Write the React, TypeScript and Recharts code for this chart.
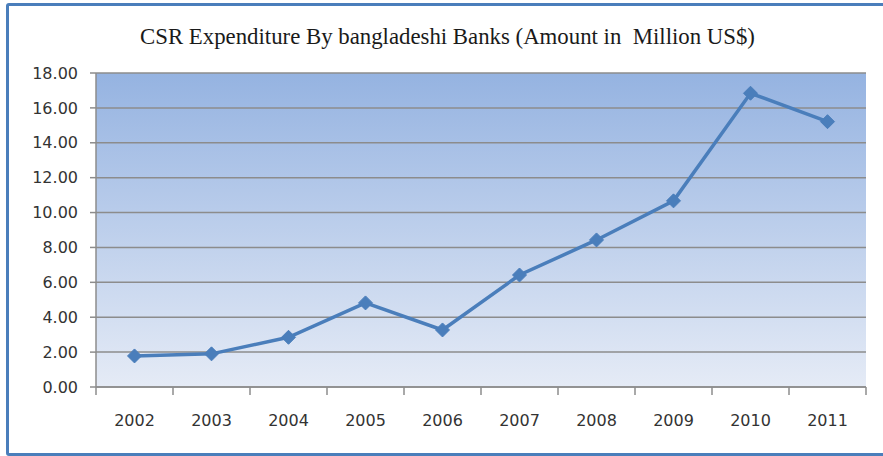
import { LineChart, Line, XAxis, YAxis, CartesianGrid } from "recharts";

const years = ["2002", "2003", "2004", "2005", "2006", "2007", "2008", "2009", "2010", "2011"];
const expenditure = [1.78, 1.9, 2.85, 4.82, 3.27, 6.42, 8.43, 10.67, 16.84, 15.21];
const yTicks = [0, 2, 4, 6, 8, 10, 12, 14, 16, 18];

const data = years.map((year, i) => ({ year, value: expenditure[i] }));

const LINE = "#4a7ebb";
const GRID = "#8c8c8c";
const AXIS_FONT = "DejaVu Sans, sans-serif";

const W = 883;
const H = 456;
const MARGIN = { top: 73, right: 17, left: 0, bottom: 0 };
const Y_WIDTH = 96;
// half of one category slot, so ticks sit between years
const HALF_BAND = (W - MARGIN.right - Y_WIDTH) / years.length / 2;

function Diamond(props: any) {
  const { cx, cy } = props;
  if (cx == null || cy == null) return null;
  const r = 7;
  return (
    <path
      d={`M${cx},${cy - r}L${cx + r},${cy}L${cx},${cy + r}L${cx - r},${cy}Z`}
      fill={LINE}
      stroke={LINE}
      strokeWidth={1}
    />
  );
}

function YearTick(props: any) {
  const { x, y, payload, index, visibleTicksCount } = props;
  return (
    <g>
      <line x1={x - HALF_BAND} x2={x - HALF_BAND} y1={y} y2={y + 8} stroke={GRID} strokeWidth={1.5} />
      {index === visibleTicksCount - 1 && (
        <line x1={x + HALF_BAND} x2={x + HALF_BAND} y1={y} y2={y + 8} stroke={GRID} strokeWidth={1.5} />
      )}
      <text x={x} y={y + 39} textAnchor="middle" fontFamily={AXIS_FONT} fontSize={16} fill="#333">
        {payload.value}
      </text>
    </g>
  );
}

export default function App() {
  return (
    <div style={{ position: "absolute", left: 0, top: 0, width: W, height: H, background: "#fff", overflow: "hidden" }}>
      <div
        style={{
          position: "absolute",
          left: 6,
          top: 3,
          width: 890,
          height: 447,
          border: `3px solid ${LINE}`,
          borderRadius: 3,
        }}
      />
      <div
        style={{
          position: "absolute",
          left: 0,
          top: 24,
          width: 895,
          textAlign: "center",
          fontFamily: "Liberation Serif, serif",
          fontSize: 22.8,
          color: "#1a1a1a",
          whiteSpace: "nowrap",
        }}
      >
        CSR Expenditure By bangladeshi Banks (Amount in&nbsp; Million US$)
      </div>
      <LineChart
        width={W}
        height={H}
        data={data}
        margin={MARGIN}
        style={{ position: "absolute", left: 0, top: 0 }}
      >
        <defs>
          <linearGradient id="plotGrad" x1="0" y1="0" x2="0" y2="1">
            <stop offset="0%" stopColor="#95b3e1" />
            <stop offset="100%" stopColor="#e5ebf6" />
          </linearGradient>
        </defs>
        <CartesianGrid
          vertical={false}
          fill="url(#plotGrad)"
          fillOpacity={1}
          stroke={GRID}
          strokeWidth={1.5}
        />
        <XAxis
          dataKey="year"
          height={69}
          padding={{ left: HALF_BAND, right: HALF_BAND }}
          axisLine={{ stroke: GRID, strokeWidth: 1.5 }}
          tickLine={false}
          tickSize={0}
          tickMargin={0}
          tick={<YearTick />}
          interval={0}
        />
        <YAxis
          width={Y_WIDTH}
          domain={[0, 18]}
          ticks={yTicks}
          interval={0}
          axisLine={{ stroke: GRID, strokeWidth: 1.5 }}
          tickLine={{ stroke: GRID, strokeWidth: 1.5 }}
          tickSize={6}
          tickMargin={12}
          tickFormatter={(v: number) => v.toFixed(2)}
          tick={{ fontFamily: AXIS_FONT, fontSize: 16, fill: "#333" }}
        />
        <YAxis
          yAxisId="right"
          orientation="right"
          width={0}
          domain={[0, 18]}
          tick={false}
          tickLine={false}
          axisLine={{ stroke: "#c8c8c8", strokeWidth: 1.5 }}
        />
        <Line
          dataKey="value"
          type="linear"
          stroke={LINE}
          strokeWidth={3.5}
          dot={<Diamond />}
          activeDot={false}
          isAnimationActive={false}
        />
      </LineChart>
    </div>
  );
}
